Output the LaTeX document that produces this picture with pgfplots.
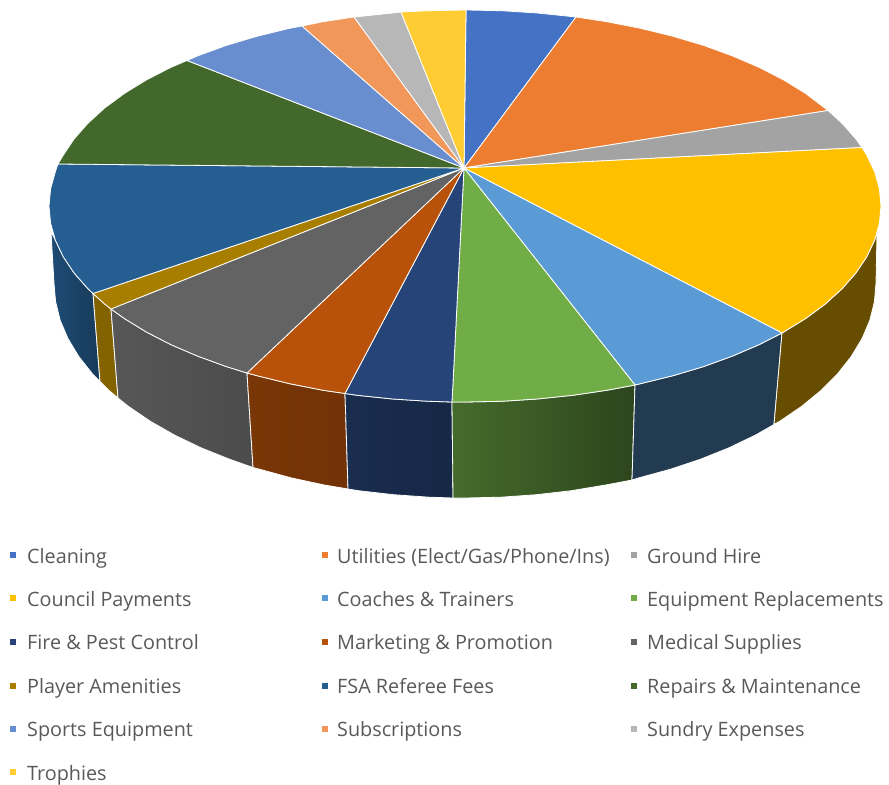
\documentclass[border=0pt]{standalone}
\usepackage{fontspec}
\setmainfont{Open Sans}
\usepackage{pgfplots}
\pgfplotsset{compat=1.18}
% Slice colours (top face)
\definecolor{cClean}{HTML}{4472C4}
\definecolor{cUtil}{HTML}{ED7D31}
\definecolor{cGround}{HTML}{A3A3A3}
\definecolor{cCouncil}{HTML}{FFC000}
\definecolor{cCoach}{HTML}{5B9BD5}
\definecolor{cEquip}{HTML}{70AD47}
\definecolor{cFire}{HTML}{264478}
\definecolor{cMark}{HTML}{B8520A}
\definecolor{cMed}{HTML}{636363}
\definecolor{cPlay}{HTML}{A87E00}
\definecolor{cFSA}{HTML}{255E91}
\definecolor{cRep}{HTML}{43682B}
\definecolor{cSport}{HTML}{698ED0}
\definecolor{cSub}{HTML}{F1975A}
\definecolor{cSun}{HTML}{B7B7B7}
\definecolor{cTro}{HTML}{FFCD33}
\definecolor{txt}{HTML}{595959}
\begin{document}
\begin{tikzpicture}
\begin{axis}[
  scale only axis, width=889bp, height=785bp,
  xmin=0, xmax=889, ymin=0, ymax=785, y dir=reverse,
  hide axis, clip=true,
  slice/.style={no markers, draw=white, line width=0.8pt, line join=round},
  keymark/.style={only marks, mark=square*, mark size=2.6bp, mark options={draw=#1, fill=#1, line width=0pt}},
]
\path (rel axis cs:0,0) rectangle (rel axis cs:1,1);

% Rim of the disc, front half
\addplot[slice, left color=cFSA!80!black, right color=cFSA!62!black] coordinates {(93,293.5)(88,288.8)(74.1,273)(63.2,256.7)(55.3,240)(51,232)(54,283)(55.6,301.7)(60.2,320.3)(68,338.6)(78.8,356.5)(92.5,373.9)(100,381.5)} --cycle;
\addplot[slice, fill=cPlay!78!black] coordinates {(93,293.5)(100,381.5)(109.1,390.5)(118,398)(111,309)(104.7,304)} --cycle;
\addplot[slice, left color=cMed!88!black, right color=cMed!76!black] coordinates {(111,309)(124.2,318.4)(146.3,332)(170.8,344.6)(197.6,356.1)(226.4,366.6)(247,373)(253,467.5)(229.2,459.1)(200.8,447.7)(174.4,435)(150.2,421.2)(128.3,406.3)(118,398)} --cycle;
\addplot[slice, left color=cMark!66!black, right color=cMark!62!black] coordinates {(247,373)(257,375.7)(289.2,383.6)(322.7,390.2)(345,393.5)(348,489)(324.4,485)(291.3,477.9)(259.5,469.2)(253,467.5)} --cycle;
\addplot[slice, left color=cFire!66!black, right color=cFire!58!black] coordinates {(345,393.5)(357.3,395.3)(392.8,399)(428.7,401.3)(452,402)(453,498)(429.2,497.2)(393.7,494.7)(358.6,490.7)(348,489)} --cycle;
\addplot[slice, left color=cEquip!62!black, right color=cEquip!40!black] coordinates {(452,402)(465,402)(501.3,401.3)(537.2,399)(572.7,395.3)(607.3,390.2)(635,385)(632,480)(605.6,485)(571.4,490.7)(536.3,494.7)(500.8,497.2)(465,498)(453,498)} --cycle;
\addplot[slice, fill=cCoach!38!black] coordinates {(635,385)(640.8,383.6)(673,375.7)(703.6,366.6)(732.4,356.1)(759.2,344.6)(782,333)(774,424.5)(755.6,435)(729.2,447.7)(700.8,459.1)(670.5,469.2)(638.7,477.9)(632,480)} --cycle;
\addplot[slice, fill=cCouncil!40!black] coordinates {(877,232)(874.7,240)(866.8,256.7)(855.9,273)(842,288.8)(825.3,304)(805.8,318.4)(783.7,332)(782,333)(774,424.5)(779.8,421.2)(801.7,406.3)(820.9,390.5)(837.5,373.9)(851.2,356.5)(862,338.6)(869.8,320.3)(874.4,301.7)(876,283)} --cycle;

% Top face, clockwise from twelve o'clock
\addplot[slice, fill=cClean] coordinates {(464,168)(466,10)(501.3,10.7)(537.2,13)(576,17)} --cycle;
\addplot[slice, fill=cUtil] coordinates {(464,168)(576,17)(607.3,21.8)(640.8,28.4)(673,36.3)(703.6,45.4)(732.4,55.9)(759.2,67.4)(783.7,80)(805.8,93.6)(828,110.5)} --cycle;
\addplot[slice, fill=cGround] coordinates {(464,168)(828,110.5)(842,123.2)(855.9,139)(862,147.5)} --cycle;
\addplot[slice, fill=cCouncil] coordinates {(464,168)(862,147.5)(866.8,155.3)(874.7,172)(879.4,188.9)(881,206)(879.4,223.1)(874.7,240)(866.8,256.7)(855.9,273)(842,288.8)(825.3,304)(805.8,318.4)(783.7,332)(782,333)} --cycle;
\addplot[slice, fill=cCoach] coordinates {(464,168)(782,333)(759.2,344.6)(732.4,356.1)(703.6,366.6)(673,375.7)(640.8,383.6)(635,385)} --cycle;
\addplot[slice, fill=cEquip] coordinates {(464,168)(635,385)(607.3,390.2)(572.7,395.3)(537.2,399)(501.3,401.3)(465,402)(452,402)} --cycle;
\addplot[slice, fill=cFire] coordinates {(464,168)(452,402)(428.7,401.3)(392.8,399)(357.3,395.3)(345,393.5)} --cycle;
\addplot[slice, fill=cMark] coordinates {(464,168)(345,393.5)(322.7,390.2)(289.2,383.6)(257,375.7)(247,373)} --cycle;
\addplot[slice, fill=cMed] coordinates {(464,168)(247,373)(226.4,366.6)(197.6,356.1)(170.8,344.6)(146.3,332)(124.2,318.4)(111,309)} --cycle;
\addplot[slice, fill=cPlay] coordinates {(464,168)(111,309)(104.7,304)(93,293.5)} --cycle;
\addplot[slice, fill=cFSA] coordinates {(464,168)(93,293.5)(88,288.8)(74.1,273)(63.2,256.7)(55.3,240)(50.6,223.1)(49,206)(50.6,188.9)(55.3,172)(58,164)} --cycle;
\addplot[slice, fill=cRep] coordinates {(464,168)(58,164)(63.2,155.3)(74.1,139)(88,123.2)(104.7,108)(124.2,93.6)(146.3,80)(170.8,67.4)(187,60.5)} --cycle;
\addplot[slice, fill=cSport] coordinates {(464,168)(187,60.5)(197.6,55.9)(226.4,45.4)(257,36.3)(289.2,28.4)(302,26)} --cycle;
\addplot[slice, fill=cSub] coordinates {(464,168)(302,26)(322.7,21.8)(354,17)} --cycle;
\addplot[slice, fill=cSun] coordinates {(464,168)(354,17)(357.3,16.7)(392.8,13)(401,12)} --cycle;
\addplot[slice, fill=cTro] coordinates {(464,168)(401,12)(428.7,10.7)(466,10)} --cycle;

% Key: one small square per slice, three columns
\addplot[keymark=cClean]   coordinates {(13,555)};
\addplot[keymark=cUtil]    coordinates {(325,555)};
\addplot[keymark=cGround]  coordinates {(634,555)};
\addplot[keymark=cCouncil] coordinates {(13,598)};
\addplot[keymark=cCoach]   coordinates {(325,598)};
\addplot[keymark=cEquip]   coordinates {(634,598)};
\addplot[keymark=cFire]    coordinates {(13,642)};
\addplot[keymark=cMark]    coordinates {(325,642)};
\addplot[keymark=cMed]     coordinates {(634,642)};
\addplot[keymark=cPlay]    coordinates {(13,686)};
\addplot[keymark=cFSA]     coordinates {(325,686)};
\addplot[keymark=cRep]     coordinates {(634,686)};
\addplot[keymark=cSport]   coordinates {(13,729)};
\addplot[keymark=cSub]     coordinates {(325,729)};
\addplot[keymark=cSun]     coordinates {(634,729)};
\addplot[keymark=cTro]     coordinates {(13,772)};

\tikzset{keytext/.style={anchor=base west, inner sep=0pt, text=txt, font=\fontsize{19.8bp}{23bp}\selectfont}}
\node[keytext] at (axis cs:27,563) {Cleaning};
\node[keytext] at (axis cs:337,563) {Utilities (Elect/Gas/Phone/Ins)};
\node[keytext] at (axis cs:647,563) {Ground Hire};
\node[keytext] at (axis cs:27,606) {Council Payments};
\node[keytext] at (axis cs:337,606) {Coaches \& Trainers};
\node[keytext] at (axis cs:647,606) {Equipment Replacements};
\node[keytext] at (axis cs:27,649) {Fire \& Pest Control};
\node[keytext] at (axis cs:337,649) {Marketing \& Promotion};
\node[keytext] at (axis cs:647,649) {Medical Supplies};
\node[keytext] at (axis cs:27,693) {Player Amenities};
\node[keytext] at (axis cs:337,693) {FSA Referee Fees};
\node[keytext] at (axis cs:647,693) {Repairs \& Maintenance};
\node[keytext] at (axis cs:27,736) {Sports Equipment};
\node[keytext] at (axis cs:337,736) {Subscriptions};
\node[keytext] at (axis cs:647,736) {Sundry Expenses};
\node[keytext] at (axis cs:27,780) {Trophies};
\end{axis}
\end{tikzpicture}
\end{document}
